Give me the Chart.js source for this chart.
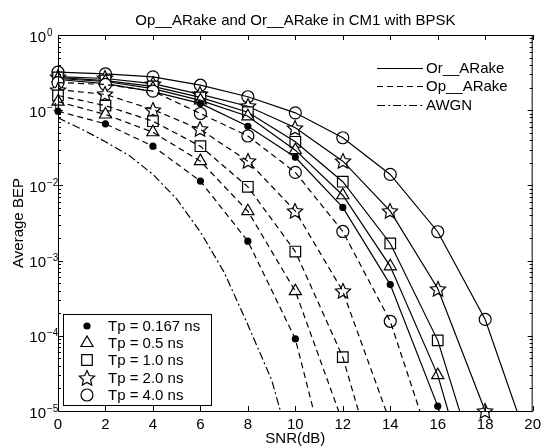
<!DOCTYPE html>
<html>
<head>
<meta charset="utf-8">
<script src="https://cdn.jsdelivr.net/npm/chart.js@4.4.1/dist/chart.umd.min.js"></script>
<style>
    html, body { margin: 0; padding: 0; background: #fff; }
</style>
</head>
<body>
<canvas id="bepChart" width="546" height="448"></canvas>
<script>
// SNR grid (dB) shared by all simulated curves
const snr = [0, 2, 4, 6, 8, 10, 12, 14, 16, 18, 20];
const tpLabels = ['Tp = 0.167 ns', 'Tp = 0.5 ns', 'Tp = 1.0 ns', 'Tp = 2.0 ns', 'Tp = 4.0 ns'];
const lineLabels = ['Or__ARake', 'Op__ARake', 'AWGN'];
const yExponents = [0, -1, -2, -3, -4, -5];

// Or__ARake (solid)
const orTp0167 = [0.256, 0.226, 0.177, 0.123, 0.0612, 0.0237, 0.0051, 4.8e-4, 1.16e-5, 1e-7, null];
const orTp05   = [0.264, 0.241, 0.194, 0.135, 0.083, 0.0294, 0.0074, 8.4e-4, 3.0e-5, 2e-7, null];
const orTp10   = [0.272, 0.248, 0.207, 0.148, 0.094, 0.038, 0.0112, 0.00169, 8.7e-5, 8e-7, null];
const orTp20   = [0.28, 0.264, 0.226, 0.162, 0.113, 0.0583, 0.021, 0.00454, 4.25e-4, 1.0e-5, 1.5e-7];
const orTp40   = [0.32, 0.305, 0.278, 0.215, 0.151, 0.0923, 0.043, 0.014, 0.00242, 1.65e-4, 2.5e-6];

// Op__ARake (dashed)
const opTp0167 = [0.097, 0.0659, 0.0332, 0.0114, 0.00181, 9.1e-5, 3e-7, null, null, null, null];
const opTp05   = [0.13, 0.0877, 0.0509, 0.021, 0.00454, 3.92e-4, 7e-6, null, null, null, null];
const opTp10   = [0.157, 0.115, 0.0714, 0.0332, 0.00958, 0.00132, 5.2e-5, 3.5e-7, null, null, null];
const opTp20   = [0.188, 0.162, 0.102, 0.0554, 0.021, 0.00454, 3.92e-4, 7e-6, null, null, null];
const opTp40   = [0.233, 0.22, 0.179, 0.0904, 0.0454, 0.0149, 0.00244, 1.56e-4, 1.9e-6, null, null];

// AWGN reference
const awgnSnr = [0, 1, 2, 3, 4, 5, 6, 7, 8, 9, 10];
const awgnBep = [0.079, 0.056, 0.038, 0.025, 0.014, 0.0066, 0.0024, 7e-4, 1.4e-4, 2.6e-5, 2e-6];

const Y_MIN = 1e-5;
const FONT = "'Liberation Sans', Arial, Helvetica, sans-serif";
const LW = 1.2;
const DASH = [6, 4];
const DASH_DOT = [8, 3, 2, 3];

Chart.defaults.font.family = FONT;
Chart.defaults.color = '#000';

// open pentagram marker
function makeStar(r) {
    const size = Math.ceil(r * 2 + 4);
    const c = document.createElement('canvas');
    c.width = c.height = size;
    const g = c.getContext('2d');
    const cx = size / 2, cy = size / 2 + 0.6;
    g.beginPath();
    for (let i = 0; i < 10; i++) {
        const a = -Math.PI / 2 + i * Math.PI / 5;
        const rr = i % 2 ? r * 0.48 : r;
        g.lineTo(cx + rr * Math.cos(a), cy + rr * Math.sin(a));
    }
    g.closePath();
    g.fillStyle = '#fff';
    g.fill();
    g.strokeStyle = '#000';
    g.lineWidth = 1.2;
    g.stroke();
    return c;
}

const markers = [
    { style: 'circle', radius: 3, fill: '#000' },
    { style: 'triangle', radius: 7, fill: '#fff' },
    { style: 'rect', radius: 7.5, fill: '#fff' },
    { style: makeStar(8), radius: 8, fill: '#fff' },
    { style: 'circle', radius: 6, fill: '#fff' }
];

// one line dataset (clipped to the axes) + one marker dataset (not clipped)
function series(values, dash, m) {
    const pts = values.map((v, i) => ({ x: snr[i], y: v })).filter(p => p.y !== null);
    return [
        {
            data: pts,
            borderColor: '#000',
            borderWidth: LW,
            borderDash: dash,
            pointRadius: 0,
            clip: { left: 0, right: 0, top: 0, bottom: 0 }
        },
        {
            data: pts.filter(p => p.y >= Y_MIN),
            showLine: false,
            clip: false,
            pointStyle: m.style,
            pointRadius: m.radius,
            pointHoverRadius: m.radius,
            pointBorderColor: '#000',
            pointBackgroundColor: m.fill,
            pointBorderWidth: LW
        }
    ];
}

const orSets = [orTp0167, orTp05, orTp10, orTp20, orTp40];
const opSets = [opTp0167, opTp05, opTp10, opTp20, opTp40];

const datasets = [
    {
        data: awgnSnr.map((s, i) => ({ x: s, y: awgnBep[i] })),
        borderColor: '#000',
        borderWidth: LW,
        borderDash: DASH_DOT,
        pointRadius: 0,
        clip: { left: 0, right: 0, top: 0, bottom: 0 }
    }
];
opSets.forEach((d, i) => datasets.push(...series(d, DASH, markers[i])));
orSets.forEach((d, i) => datasets.push(...series(d, [], markers[i])));

// keep the star bitmaps crisp at fractional positions
const crispImages = {
    id: 'crispImages',
    beforeDatasetsDraw(chart) { chart.ctx.imageSmoothingEnabled = false; }
};

// axes box, inward ticks, log labels, title and the two legends
const matlabFrame = {
    id: 'matlabFrame',
    afterDraw(chart) {
        const { ctx, chartArea: a, scales: { x, y } } = chart;
        ctx.save();
        ctx.strokeStyle = '#000';
        ctx.fillStyle = '#000';
        ctx.lineWidth = 1;
        ctx.setLineDash([]);

        ctx.strokeRect(a.left + 0.5, a.top + 0.5, a.right - a.left - 1, a.bottom - a.top);

        ctx.beginPath();
        snr.forEach(v => {
            const px = Math.round(x.getPixelForValue(v)) + 0.5;
            ctx.moveTo(px, a.bottom); ctx.lineTo(px, a.bottom - 5);
            ctx.moveTo(px, a.top); ctx.lineTo(px, a.top + 5);
        });
        yExponents.forEach(e => {
            const py = Math.round(y.getPixelForValue(Math.pow(10, e))) + 0.5;
            ctx.moveTo(a.left, py); ctx.lineTo(a.left + 5, py);
            ctx.moveTo(a.right, py); ctx.lineTo(a.right - 5, py);
            if (e === 0) return;
            for (let k = 2; k <= 9; k++) {
                const pm = Math.round(y.getPixelForValue(k * Math.pow(10, e))) + 0.5;
                ctx.moveTo(a.left, pm); ctx.lineTo(a.left + 3, pm);
                ctx.moveTo(a.right, pm); ctx.lineTo(a.right - 3, pm);
            }
        });
        ctx.stroke();

        // 10^e labels
        yExponents.forEach(e => {
            const py = y.getPixelForValue(Math.pow(10, e));
            ctx.textBaseline = 'alphabetic';
            ctx.font = '15px ' + FONT;
            ctx.textAlign = 'right';
            ctx.fillText('10', 46, py + 6.5);
            ctx.font = '10px ' + FONT;
            ctx.textAlign = 'left';
            ctx.fillText(String(e).replace('-', '\u2212'), 47, py + 0.5);
        });

        // title
        ctx.font = '15px ' + FONT;
        ctx.textAlign = 'center';
        ctx.textBaseline = 'alphabetic';
        ctx.fillText('Op__ARake and Or__ARake in CM1 with BPSK', (a.left + a.right) / 2, 24.5);

        // line style legend
        const styles = [[], DASH, DASH_DOT];
        ctx.textAlign = 'left';
        ctx.textBaseline = 'middle';
        ctx.lineWidth = LW;
        lineLabels.forEach((t, i) => {
            const ly = 67.5 + i * 18.7;
            ctx.setLineDash(styles[i]);
            ctx.beginPath();
            ctx.moveTo(377, Math.round(ly) + 0.5);
            ctx.lineTo(423, Math.round(ly) + 0.5);
            ctx.stroke();
            ctx.fillText(t, 426, ly + 1);
        });
        ctx.setLineDash([]);

        // marker legend
        ctx.lineWidth = 1;
        ctx.fillStyle = '#fff';
        ctx.fillRect(63.5, 314.5, 148, 91);
        ctx.strokeRect(63.5, 314.5, 148, 91);
        tpLabels.forEach((t, i) => {
            const ly = Math.round(325.7 + i * 17.35);
            const m = markers[i];
            ctx.fillStyle = m.fill;
            ctx.strokeStyle = '#000';
            ctx.lineWidth = LW;
            Chart.helpers.drawPoint(ctx, { pointStyle: m.style, radius: m.radius, rotation: 0, borderWidth: LW }, 87, ly);
            ctx.fillStyle = '#000';
            ctx.fillText(t, 108, ly + 1);
        });
        ctx.restore();
    }
};

new Chart(document.getElementById('bepChart'), {
    type: 'line',
    data: { datasets },
    options: {
        responsive: false,
        animation: false,
        devicePixelRatio: 1,
        layout: { padding: { top: 35, right: 12, left: 0, bottom: 0 } },
        plugins: {
            legend: { display: false },
            tooltip: { enabled: false },
            title: { display: false }
        },
        scales: {
            x: {
                type: 'linear',
                min: 0,
                max: 20,
                grid: { display: false, drawTicks: false },
                border: { display: false },
                ticks: { stepSize: 2, autoSkip: false, maxRotation: 0, padding: 5, font: { size: 15 } },
                title: { display: true, text: 'SNR(dB)', font: { size: 15 }, padding: { top: 0, bottom: 0 } },
                afterFit: s => { s.height = 37; }
            },
            y: {
                type: 'logarithmic',
                min: Y_MIN,
                max: 1,
                grid: { display: false, drawTicks: false },
                border: { display: false },
                ticks: { display: false },
                title: { display: true, text: 'Average BEP', font: { size: 15 }, padding: { top: 10, bottom: 0 } },
                afterFit: s => { s.width = 58; }
            }
        }
    },
    plugins: [crispImages, matlabFrame]
});
</script>
</body>
</html>
